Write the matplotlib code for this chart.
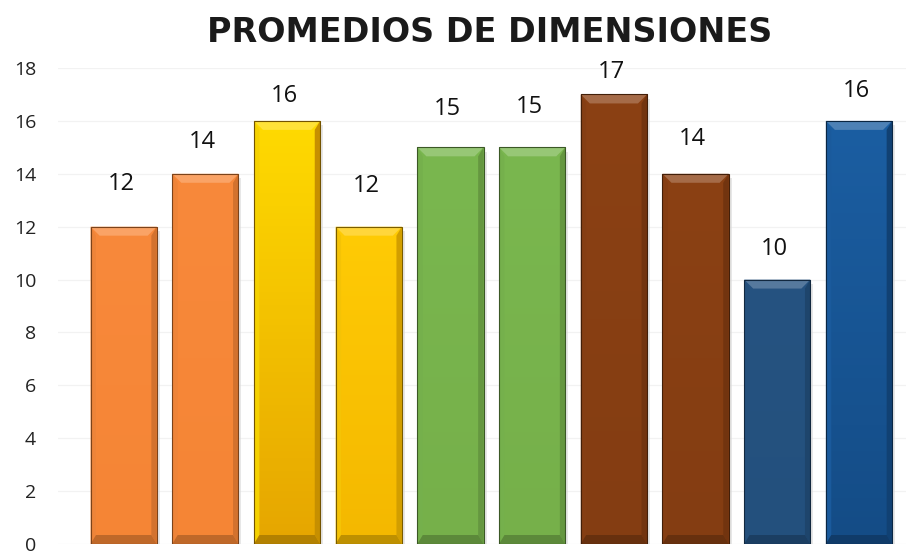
import matplotlib
matplotlib.use("Agg")
import matplotlib.pyplot as plt
import numpy as np
from matplotlib.colors import to_rgb
from matplotlib.patches import Polygon

# ---- data ----
categories = ["D1", "D2", "D3", "D4", "D5", "D6", "D7", "D8", "D9", "D10"]
values = [12, 14, 16, 12, 15, 15, 17, 14, 10, 16]
bar_top_colors = ["#F8893B", "#F8893B", "#FFDA00", "#FFCB05", "#7AB74F",
                  "#7AB74F", "#8B4114", "#8B4114", "#265381", "#1B5EA2"]
bar_bottom_colors = ["#F58535", "#F58535", "#E6A600", "#F4B800", "#76B04A",
                     "#76B04A", "#843D12", "#843D12", "#23507D", "#144C86"]
yticks = [0, 2, 4, 6, 8, 10, 12, 14, 16, 18]
title = "PROMEDIOS DE DIMENSIONES"

# per-label vertical gap (pixels) – style only
label_gap_px = [43, 32, 25, 41, 38, 40, 22, 35, 31, 30]

plt.rcParams['font.family'] = ['Open Sans', 'DejaVu Sans']

fig = plt.figure(figsize=(9.11, 5.52), dpi=100)
ax = fig.add_axes([0.064, 0.0145, 0.93, 0.8623])
ax.set_xlim(-0.80, 9.57)
ax.set_ylim(0, 18)
ax.set_yticks(yticks)
ax.set_yticklabels([str(t) for t in yticks], fontsize=14, color="#222222")
ax.tick_params(axis='y', length=0, pad=16)
ax.set_xticks([])
for s in ax.spines.values():
    s.set_visible(False)
ax.yaxis.grid(True, color="#F2F2F2", linewidth=0.9)
ax.set_axisbelow(True)

width = 0.81
x = np.arange(len(values))


def shade(c, f):
    r, g, b = to_rgb(c)
    if f >= 0:
        return (r + (1 - r) * f, g + (1 - g) * f, b + (1 - b) * f)
    return (r * (1 + f), g * (1 + f), b * (1 + f))


bars = ax.bar(x, values, width=width, color=bar_top_colors,
              edgecolor='none', linewidth=0, zorder=3)

# bevel sizes in data units
ppx = 81.67  # pixels per x unit
ppy = 26.45  # pixels per y unit
bx = 9 / ppx
by = 9 / ppy
sx = 3 / ppx

for i, b in enumerate(bars):
    c = bar_top_colors[i]
    cb = bar_bottom_colors[i]
    x0 = b.get_x()
    x1 = x0 + b.get_width()
    h = b.get_height()
    ax.add_patch(Polygon([[x1, 0], [x1, h - by * 0.5], [x1 + sx, h - by * 0.5], [x1 + sx, 0]],
                         closed=True, facecolor="#D8D8D8", edgecolor='none', zorder=2.9, alpha=0.6))
    top_c = np.array(to_rgb(c))
    bot_c = np.array(to_rgb(cb))
    n = 64
    grad = np.linspace(0, 1, n)[:, None, None]
    img = top_c[None, None, :] * (1 - grad) + bot_c[None, None, :] * grad
    im = ax.imshow(img, extent=[x0, x1, 0, h], origin='upper', aspect='auto', zorder=3.1)
    im.set_clip_path(b)
    top = Polygon([[x0, h], [x1, h], [x1 - bx, h - by], [x0 + bx, h - by]],
                  closed=True, facecolor=shade(c, 0.22), edgecolor='none', zorder=3.2)
    left = Polygon([[x0, 0], [x0, h], [x0 + bx * 0.6, h - by], [x0 + bx * 0.6, by]],
                   closed=True, facecolor=shade(c, -0.04), edgecolor='none', zorder=3.2)
    right = Polygon([[x1, 0], [x1, h], [x1 - bx * 0.6, h - by], [x1 - bx * 0.6, by]],
                    closed=True, facecolor=shade(cb, -0.14), edgecolor='none', zorder=3.2)
    bottom = Polygon([[x0, 0], [x1, 0], [x1 - bx * 0.6, by], [x0 + bx * 0.6, by]],
                     closed=True, facecolor=shade(cb, -0.22), edgecolor='none', zorder=3.2)
    for p in (top, left, right, bottom):
        ax.add_patch(p)
    outline = Polygon([[x0, 0], [x0, h], [x1, h], [x1, 0]], closed=True, fill=False,
                      edgecolor=shade(cb, -0.5), linewidth=0.8, zorder=3.3)
    ax.add_patch(outline)
    ax.annotate(str(values[i]), xy=(x[i], h), xytext=(-2, label_gap_px[i] * 0.72),
                textcoords='offset points', ha='center', va='center',
                fontsize=17, color="#111111", zorder=4)

fig.text(0.537, 0.942, title, ha='center', va='center', fontsize=24,
         fontweight='bold', color="#1a1a1a", family=['DejaVu Sans'])

fig.savefig("out.png", dpi=100)
